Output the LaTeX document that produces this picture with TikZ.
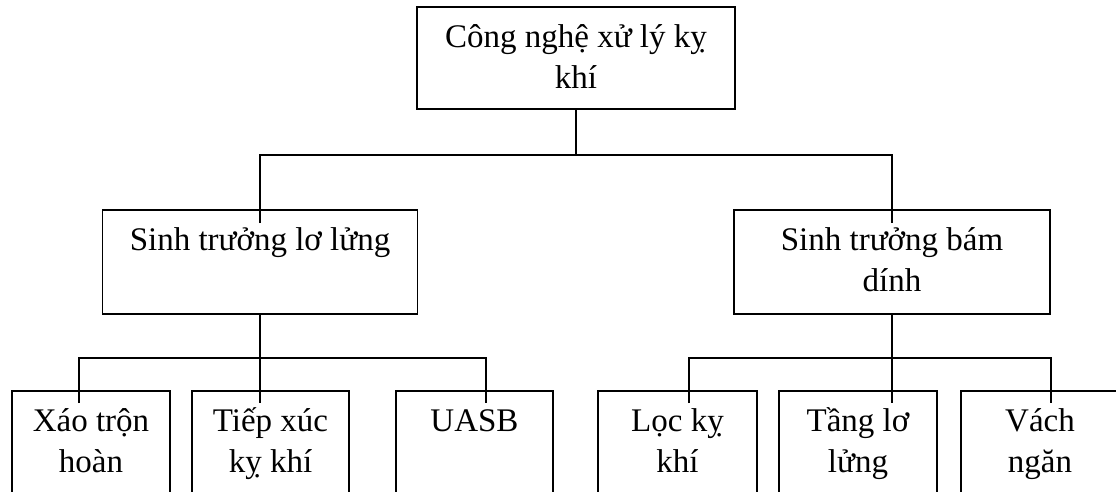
\documentclass[tikz,border=0pt]{standalone}
\usepackage{fontspec}
\setmainfont{Liberation Serif}
\begin{document}
\begin{tikzpicture}[x=1pt,y=-1pt,
  frame/.style={draw, line width=1.4pt, inner sep=0pt},
  lbl/.style={anchor=base, inner sep=0pt, font=\fontsize{33}{41}\selectfont},
  wire/.style={line width=1.4pt}]
\useasboundingbox (0,0) rectangle (1116,491);
\clip (0,0) rectangle (1116,491);

% boxes
\node[frame, minimum width=318pt, minimum height=102pt] (top) at (576,58) {};
\node[frame, minimum width=315pt, minimum height=104pt] (ml) at (260,262) {};
\node[frame, minimum width=316pt, minimum height=104pt] (mr) at (892,262) {};
\node[frame, minimum width=158pt, minimum height=130pt] (b1) at (91,456) {};
\node[frame, minimum width=157pt, minimum height=130pt] (b2) at (270.5,456) {};
\node[frame, minimum width=157pt, minimum height=130pt] (b3) at (474.5,456) {};
\node[frame, minimum width=159pt, minimum height=130pt] (b4) at (677.5,456) {};
\node[frame, minimum width=158pt, minimum height=130pt] (b5) at (858,456) {};
\node[frame, minimum width=158pt, minimum height=130pt] (b6) at (1040,456) {};

% labels, first baseline 41pt below each box top
\node[lbl] (topT) at ([yshift=-41pt]top.north) {\begin{tabular}[t]{@{}c@{}}Công nghệ xử lý kỵ\\khí\end{tabular}};
\node[lbl] (mlT) at ([yshift=-41pt]ml.north) {\begin{tabular}[t]{@{}c@{}}Sinh trưởng lơ lửng\end{tabular}};
\node[lbl] (mrT) at ([yshift=-41pt]mr.north) {\begin{tabular}[t]{@{}c@{}}Sinh trưởng bám\\dính\end{tabular}};
\node[lbl] (b1T) at ([yshift=-41pt]b1.north) {\begin{tabular}[t]{@{}c@{}}Xáo trộn\\hoàn\end{tabular}};
\node[lbl] (b2T) at ([yshift=-41pt]b2.north) {\begin{tabular}[t]{@{}c@{}}Tiếp xúc\\kỵ khí\end{tabular}};
\node[lbl] (b3T) at ([yshift=-41pt]b3.north) {\begin{tabular}[t]{@{}c@{}}UASB\end{tabular}};
\node[lbl] (b4T) at ([yshift=-41pt]b4.north) {\begin{tabular}[t]{@{}c@{}}Lọc kỵ\\khí\end{tabular}};
\node[lbl] (b5T) at ([yshift=-41pt]b5.north) {\begin{tabular}[t]{@{}c@{}}Tầng lơ\\lửng\end{tabular}};
\node[lbl] (b6T) at ([yshift=-41pt]b6.north) {\begin{tabular}[t]{@{}c@{}}Vách\\ngăn\end{tabular}};

% connector ends
\coordinate (hub0) at (576,155);
\coordinate (ml-in) at (260,223);
\coordinate (mr-in) at (892,223);
\coordinate (hub1) at (260,358);
\coordinate (hub2) at (892,358);
\coordinate (b1-in) at (79,403);
\coordinate (b2-in) at (260,403);
\coordinate (b3-in) at (486,403);
\coordinate (b4-in) at (689,403);
\coordinate (b5-in) at (892,403);
\coordinate (b6-in) at (1051,403);

% level 1
\draw[wire] (top.south) -- (hub0);
\draw[wire] (ml-in) |- (hub0) -| (mr-in);
% level 2, left group
\draw[wire] (ml.south) -- (b2-in);
\draw[wire] (b1-in) |- (b3-in |- hub1) -- (b3-in);
% level 2, right group
\draw[wire] (mr.south) -- (b5-in);
\draw[wire] (b4-in) |- (b6-in |- hub2) -- (b6-in);
\end{tikzpicture}
\end{document}
